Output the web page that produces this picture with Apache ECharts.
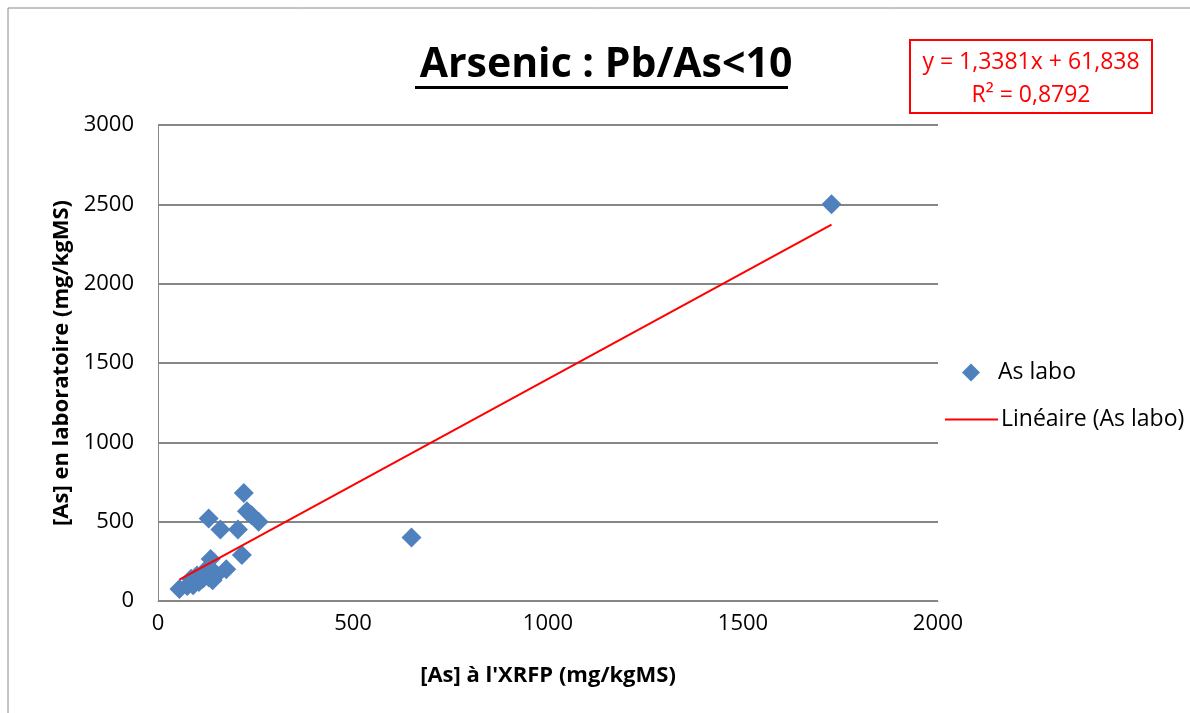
<!DOCTYPE html>
<html><head><meta charset="utf-8">
<script src="https://cdn.jsdelivr.net/npm/echarts@6/dist/echarts.min.js"></script>
<style>html,body{margin:0;padding:0;background:#fff}#c{width:1190px;height:713px}</style>
</head><body><div id="c"></div>
<script>
const xfrp = [55, 75, 90, 85, 100, 105, 115, 120, 130, 140, 150, 135, 130, 175, 215, 130, 160, 205, 220, 228, 240, 258, 650, 1727];
const labo = [75, 95, 100, 140, 160, 120, 140, 180, 150, 130, 165, 265, 215, 200, 290, 520, 450, 450, 680, 565, 540, 500, 400, 2500];
const slope = 1.3381, intercept = 61.838;
const trendX = [55, 1727];
const xTicks = [0, 500, 1000, 1500, 2000];
const yTicks = [0, 500, 1000, 1500, 2000, 2500, 3000];

const pts = xfrp.map((x, i) => [x, labo[i]]);
const trend = trendX.map(x => [x, slope * x + intercept]);
const font = 'Open Sans';
const chart = echarts.init(document.getElementById('c'));
chart.setOption({
  animation: false,
  textStyle: { fontFamily: font },
  grid: { left: 158, right: 252, top: 125, bottom: 112 },
  title: {
    text: 'Arsenic : Pb/As<10', left: 601, top: 40, textAlign: 'center',
    textStyle: { fontFamily: font, fontSize: 41, fontWeight: 'bold', color: '#000' }
  },
  graphic: [
    { type: 'rect', shape: { x: 8, y: 8, width: 1200, height: 720 }, style: { fill: 'none', stroke: '#888', lineWidth: 1 } },
    { type: 'rect', shape: { x: 415, y: 86, width: 373, height: 3 }, style: { fill: '#000' } },
    { type: 'rect', shape: { x: 910, y: 40, width: 242, height: 73 }, style: { fill: '#fff', stroke: '#ff0000', lineWidth: 2 } },
    { type: 'text', x: 1031, y: 62, style: { text: 'y = 1,3381x + 61,838', fill: '#ff0000', font: '23px "Open Sans"', align: 'center', verticalAlign: 'middle' } },
    { type: 'text', x: 1031, y: 95, style: { text: 'R² = 0,8792', fill: '#ff0000', font: '23px "Open Sans"', align: 'center', verticalAlign: 'middle' } }
  ],
  legend: [
    { data: [{ name: 'As labo', icon: 'diamond' }], left: 957, top: 356, itemWidth: 18, itemHeight: 18,
      textStyle: { fontFamily: font, fontSize: 23, color: '#000', padding: [0, 0, 0, 13] } },
    { data: [{ name: 'Linéaire (As labo)', icon: 'rect' }], left: 940, top: 403, itemWidth: 53, itemHeight: 2,
      textStyle: { fontFamily: font, fontSize: 23, color: '#000', padding: [0, 0, 0, -2] } }
  ],
  xAxis: {
    type: 'value', min: 0, max: 2000, interval: 500,
    name: "[As] à l'XRFP (mg/kgMS)", nameLocation: 'middle', nameGap: 64,
    nameTextStyle: { fontFamily: font, fontSize: 22, fontWeight: 'bold', color: '#000' },
    axisLine: { show: true, lineStyle: { color: '#868686', width: 1 } },
    axisTick: { show: false },
    axisLabel: { fontFamily: font, fontSize: 22, color: '#000', margin: 12, formatter: v => String(v) },
    splitLine: { show: false }
  },
  yAxis: {
    type: 'value', min: 0, max: 3000, interval: 500,
    name: '[As] en laboratoire (mg/kgMS)', nameLocation: 'middle', nameGap: 84, nameRotate: 90,
    nameTextStyle: { fontFamily: font, fontSize: 22, fontWeight: 'bold', color: '#000' },
    axisLine: { show: true, lineStyle: { color: '#868686', width: 1 } },
    axisTick: { show: false },
    axisLabel: { fontFamily: font, fontSize: 22, color: '#000', margin: 24, formatter: v => String(v) },
    splitLine: { show: true, lineStyle: { color: '#868686', width: 2 } }
  },
  series: [
    { name: 'As labo', type: 'scatter', data: pts, symbol: 'diamond', symbolSize: 20,
      itemStyle: { color: '#4f81bd', opacity: 1 }, z: 2 },
    { name: 'Linéaire (As labo)', type: 'line', data: trend, symbol: 'none',
      lineStyle: { color: '#ff0000', width: 2 }, itemStyle: { color: '#ff0000' }, z: 3 }
  ]
});
</script></body></html>
